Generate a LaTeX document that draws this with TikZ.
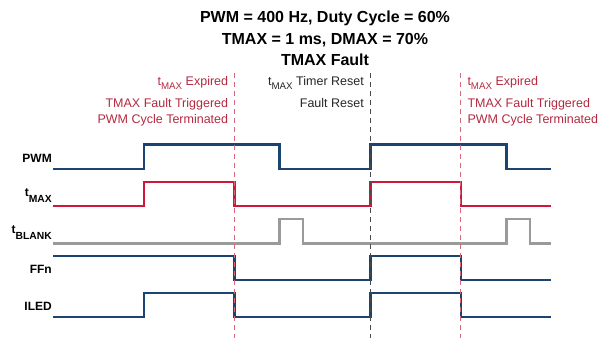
\documentclass[tikz,border=0pt]{standalone}
\usepackage{fontspec}
\setmainfont{Liberation Sans}
\usetikzlibrary{positioning}
\definecolor{sigblue}{HTML}{1B4470}
\definecolor{sigred}{HTML}{D2163A}
\definecolor{siggray}{HTML}{9A9A9A}
\definecolor{notered}{HTML}{B3293F}
\definecolor{markred}{HTML}{D66A7C}
\definecolor{markgray}{HTML}{4A4A4A}
\newcommand{\lowsub}[1]{\raisebox{-0.36em}{\scalebox{0.78}{#1}}}
\newcommand{\labsub}[1]{\raisebox{-0.47em}{\scalebox{0.86}{#1}}}

\begin{document}
\begin{tikzpicture}[x=1pt, y=-1pt,
  title/.style={font=\fontsize{16}{19}\selectfont\bfseries, anchor=base, inner sep=0pt},
  note/.style={font=\fontsize{12.5}{15}\selectfont, inner sep=0pt},
  siglabel/.style={font=\fontsize{12}{14}\selectfont\bfseries, anchor=base east, inner sep=0pt},
  wave/.style={line width=2.4pt, line join=miter},
  marker/.style={dash pattern=on 5pt off 4pt, line width=1.3pt}
]
\useasboundingbox (0,0) rectangle (608,338);

% title
\node[title] (title1) at (325,22.5) {PWM = 400 Hz, Duty Cycle = 60\%};
\node[title] (title2) at (325,44.8) {TMAX = 1 ms, DMAX = 70\%};
\node[title] (title3) at (325,65.8) {TMAX Fault};

% notes at the events
\node[note, anchor=base east, text=notered] (expA1) at (228.3,85.2) {t\lowsub{MAX} Expired};
\node[note, anchor=base east, text=notered] (expA2) at (228.3,107.2) {TMAX Fault Triggered};
\node[note, anchor=base east, text=notered] (expA3) at (228.3,123.8) {PWM Cycle Terminated};
\node[note, anchor=base east, text=black!85] (rst1) at (364,85.2) {t\lowsub{MAX} Timer Reset};
\node[note, anchor=base east, text=black!85] (rst2) at (364,107.2) {Fault Reset};
\node[note, anchor=base west, text=notered] (expC1) at (467.3,85.2) {t\lowsub{MAX} Expired};
\node[note, anchor=base west, text=notered] (expC2) at (467.3,107.2) {TMAX Fault Triggered};
\node[note, anchor=base west, text=notered] (expC3) at (467.3,123.8) {PWM Cycle Terminated};

% signal names
\node[siglabel] (lblpwm) at (52,162.7) {PWM};
\node[siglabel] (lbltmax) at (52,196.5) {t\labsub{MAX}};
\node[siglabel] (lblblank) at (52,233.8) {t\labsub{BLANK}};
\node[siglabel] (lblffn) at (52,273.5) {FFn};
\node[siglabel] (lbliled) at (52,310) {ILED};

% waveforms
\draw[wave, sigblue] (53.3,169) -| (143.7,144.3) -| (279.3,169) -| (370.3,144.3) -| (506.3,169) -- (551.3,169);
\draw[wave, sigred] (53.3,206) -| (143.7,181.7) -| (234.3,206) -| (370.3,181.7) -| (460.7,206) -- (551.3,206);
\draw[wave, siggray] (53.3,243.3) -| (279.3,218.7) -| (302.7,243.3) -| (506.3,218.7) -| (529.7,243.3) -- (551.3,243.3);
\draw[wave, sigblue] (53.3,255.7) -| (234.3,280) -| (370.3,255.7) -| (460.7,280) -- (551.3,280);
\draw[wave, sigblue] (53.3,317) -| (143.7,292.7) -| (234.3,317) -| (370.3,292.7) -| (460.7,317) -- (551.3,317);

% event markers
\coordinate (bottom) at (0,338);
\coordinate (expiredA) at (234.3,73.3);
\coordinate (resetB) at (370.3,73.3);
\coordinate (expiredC) at (460.7,73.3);
\draw[marker, markred] (expiredA) -- (expiredA |- bottom);
\draw[marker, markgray] (resetB) -- (resetB |- bottom);
\draw[marker, markred] (expiredC) -- (expiredC |- bottom);
\end{tikzpicture}
\end{document}
